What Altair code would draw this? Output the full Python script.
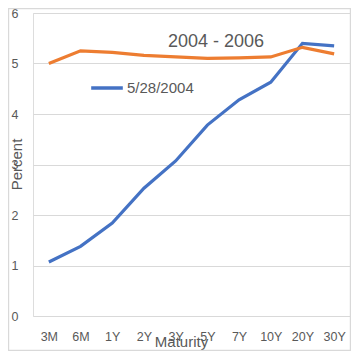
import altair as alt
import pandas as pd

maturities = ["3M", "6M", "1Y", "2Y", "3Y", "5Y", "7Y", "10Y", "20Y", "30Y"]
y2004 = [1.07, 1.38, 1.84, 2.53, 3.07, 3.78, 4.28, 4.63, 5.40, 5.35]
y2006 = [5.00, 5.25, 5.22, 5.16, 5.13, 5.10, 5.11, 5.13, 5.32, 5.19]
series_names = ["5/28/2004", "5/28/2006"]
colors = ["#4472C4", "#ED7D31"]
chart_title = "2004 - 2006"

rows = []
for m, v in zip(maturities, y2004):
    rows.append({"Maturity": m, "Percent": v, "Series": series_names[0]})
for m, v in zip(maturities, y2006):
    rows.append({"Maturity": m, "Percent": v, "Series": series_names[1]})
df = pd.DataFrame(rows)

W, H = 317, 303
grey = "#595959"
font = "Liberation Sans"

lines = alt.Chart(df).mark_line(strokeWidth=3.2, strokeCap="butt").encode(
    x=alt.X("Maturity:N", sort=maturities, scale=alt.Scale(padding=0.5),
            axis=alt.Axis(title="Maturity", labelAngle=0, labelPadding=14, labelFontSize=12.5,
                          labelColor=grey, labelFont=font, domain=False, ticks=False, grid=False,
                          titleFont=font, titleFontSize=15, titleFontWeight="normal", titleColor=grey,
                          titleX=148, titleY=25, titleAnchor="middle", titleAlign="center", titleBaseline="middle")),
    y=alt.Y("Percent:Q", scale=alt.Scale(domain=[0, 6]),
            axis=alt.Axis(title="Percent", values=[0, 1, 2, 3, 4, 5, 6], format="d", labelPadding=15,
                          labelFontSize=12.5, labelColor=grey, labelFont=font, domain=False, ticks=False,
                          gridColor="#d9d9d9", gridWidth=1.2,
                          titleFont=font, titleFontSize=15, titleFontWeight="normal", titleColor=grey,
                          titleX=-17, titleY=151, titleAngle=-90, titleAlign="center", titleBaseline="middle")),
    color=alt.Color("Series:N", scale=alt.Scale(domain=series_names, range=colors),
                    legend=alt.Legend(title=None, values=[series_names[0]], orient="none",
                                      legendX=56, legendY=57, symbolType="stroke", symbolSize=1000,
                                      symbolStrokeWidth=3.5, labelFontSize=15, labelColor=grey,
                                      labelFont=font, padding=0, labelOffset=2)),
)

border_df = pd.DataFrame({"a": [0]})
border = alt.Chart(border_df).mark_rect(fill=None, stroke="#d9d9d9", strokeWidth=1.2).encode(
    x=alt.value(-24.4), x2=alt.value(317.4), y=alt.value(-4.4), y2=alt.value(337.4)
)

title_df = pd.DataFrame({"t": [chart_title]})
title = alt.Chart(title_df).mark_text(fontSize=18, font=font, color=grey, align="center", baseline="middle").encode(
    text="t:N", x=alt.value(183), y=alt.value(29)
)

chart = alt.layer(border, lines, title).properties(
    width=W, height=H,
    padding={"left": 25, "top": 5, "right": 1, "bottom": 35},
    autosize=alt.AutoSizeParams(type="none"),
).configure_view(stroke=None).configure(background="white")

chart.save("out.html", embed_options={"renderer": "svg", "actions": False})
